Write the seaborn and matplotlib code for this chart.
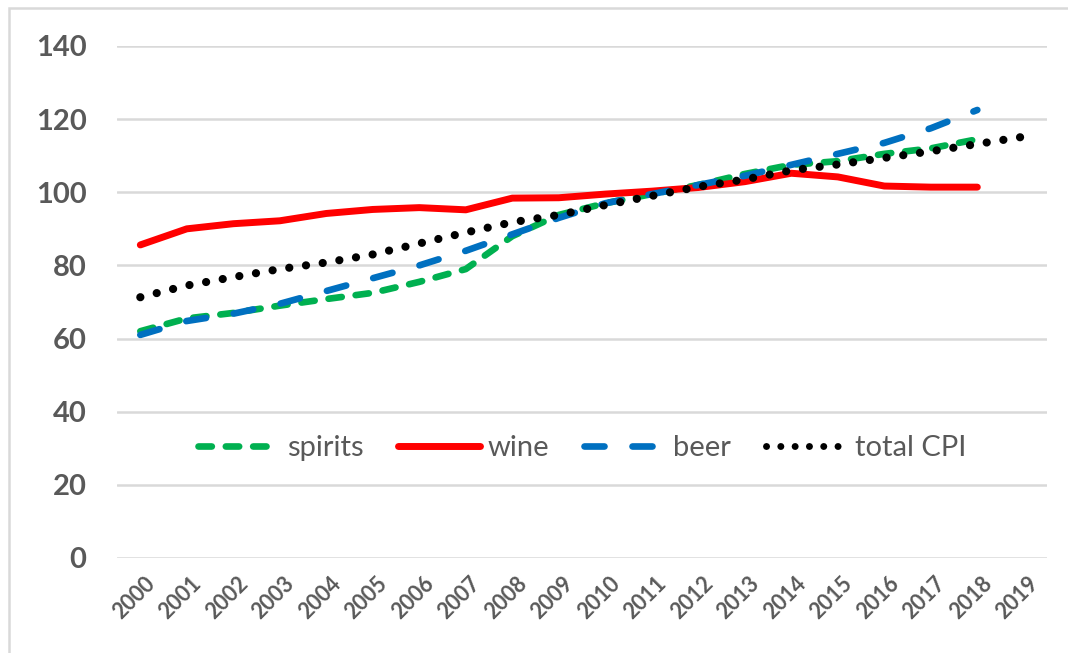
import matplotlib
matplotlib.use("Agg")
import matplotlib.pyplot as plt
import matplotlib.transforms as mtransforms
from matplotlib.lines import Line2D
from matplotlib.patches import Rectangle
import pandas as pd
import seaborn as sns

years = list(range(2000, 2020))
spirits = [62, 65.5, 67, 69, 70.8, 72.5, 75.5, 79, 88, 93.8, 97, 99.5, 102, 105, 107.5, 108.5, 110.5, 112, 114.5]
wine = [85.6, 90.0, 91.4, 92.2, 94.2, 95.3, 95.8, 95.2, 98.4, 98.5, 99.5, 100.3, 101.3, 102.9, 105.2, 104.2, 101.7, 101.4, 101.4]
beer = [61, 64.8, 66.8, 69.5, 73, 76.5, 80, 84, 88.5, 93, 97, 99.5, 102, 104.5, 107.5, 110.5, 113.5, 117.5, 122.5]
total_cpi = [71.3, 74.5, 76.8, 79, 80.8, 83, 86, 89, 91.8, 93.8, 96.5, 99, 101.5, 103.5, 106, 107.6, 109.4, 111.2, 113.2, 115.2]
series_names = ["spirits", "wine", "beer", "total CPI"]
y_ticks = [0, 20, 40, 60, 80, 100, 120, 140]

sns.set_theme(style="white")
plt.rcParams["font.family"] = ["Lato", "DejaVu Sans"]

grey = "#595959"
colors = {"spirits": "#00B050", "wine": "#FF0000", "beer": "#0070C0", "total CPI": "#000000"}
dash_styles = {"spirits": (2.0, 2.1), "wine": None, "beer": (3.0, 4.2), "total CPI": (0.01, 2.05)}
widths = {"spirits": 4.8, "wine": 5.0, "beer": 4.8, "total CPI": 5.9}

fig = plt.figure(figsize=(10.68, 6.53), dpi=100)
ax = fig.add_axes([0.1096, 0.1455, 0.8708, 0.7841])

values = {"spirits": spirits, "wine": wine, "beer": beer, "total CPI": total_cpi}
handles = []
for name in series_names:
    vals = values[name]
    df = pd.DataFrame({"year": years[:len(vals)], "value": vals})
    sns.lineplot(data=df, x="year", y="value", ax=ax, color=colors[name], linewidth=widths[name],
                 solid_capstyle="round", dash_capstyle="round")
    line = ax.get_lines()[-1]
    if dash_styles[name] is not None:
        line.set_dashes(dash_styles[name])
    handles.append(Line2D([], [], color=colors[name], linewidth=min(widths[name], 5.0),
                          dash_capstyle="round", solid_capstyle="round",
                          linestyle=(0, dash_styles[name]) if dash_styles[name] else "-"))

ax.set_xlim(1999.5, 2019.5)
ax.set_ylim(0, 140)
ax.set_yticks(y_ticks)
ax.set_xticks(years)
ax.set_xticklabels([str(y) for y in years], rotation=45, ha="right", va="center",
                   rotation_mode="anchor", fontsize=15.5, fontweight="bold", color=grey)
ax.set_yticklabels([str(v) for v in y_ticks], fontsize=21, fontweight="bold", color=grey)
ax.tick_params(axis="y", pad=22, length=0)
ax.tick_params(axis="x", pad=16, length=0)
shift = mtransforms.ScaledTranslation(11 / 100, 0, fig.dpi_scale_trans)
for lbl in ax.get_xticklabels():
    lbl.set_transform(lbl.get_transform() + shift)
ax.set_xlabel("")
ax.set_ylabel("")
ax.yaxis.grid(True, color="#D9D9D9", linewidth=1.8)
ax.set_axisbelow(True)
for s in ax.spines.values():
    s.set_visible(False)

ax.legend(handles, series_names, loc="center", bbox_to_anchor=(0.5, 0.215), ncol=4,
          frameon=False, fontsize=21, handlelength=2.8, handletextpad=0.25,
          columnspacing=1.2, labelcolor=grey)

fig.patches.append(Rectangle((9 / 1068, -0.1), 1.2, 1 - 8 / 653 + 0.1, transform=fig.transFigure,
                             fill=False, edgecolor="#D9D9D9", linewidth=1.8))

fig.savefig("out.png", dpi=100)
